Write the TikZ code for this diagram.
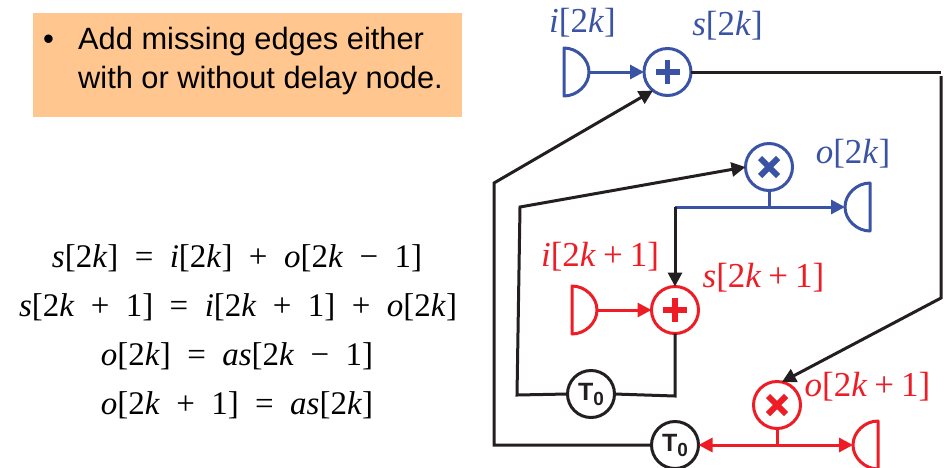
\documentclass[tikz,border=0pt]{standalone}
\usepackage{fontspec}
\setmainfont{Liberation Serif}
\setsansfont{Liberation Sans}
\usetikzlibrary{arrows.meta}
\definecolor{cblue}{HTML}{3A53A4}
\definecolor{cred}{HTML}{EE1C25}
\definecolor{cblack}{HTML}{231F20}
\definecolor{corange}{HTML}{FFC78F}
\newcommand{\eqfont}{\fontsize{33}{36}\selectfont}
\newcommand{\lblfont}{\fontsize{35}{38}\selectfont}
\newcommand{\vr}[1]{\textit{#1}}
\newcommand{\op}[1]{\kern16.4pt#1\kern16.4pt}
\newcommand{\lop}[1]{\kern7pt#1\kern7pt}
\newcommand{\dgate}[5]{% name, flat x, y, direction (+1 right bulge), colour
  \draw[#5,line width=3pt,line join=round]
    (#2,#3-24) .. controls (#2+#4*13,#3-24) and (#2+#4*25,#3-13) .. (#2+#4*25,#3)
    .. controls (#2+#4*25,#3+13) and (#2+#4*13,#3+24) .. (#2,#3+24) -- cycle;
  \coordinate (#1) at (#2+#4*25,#3);
}
\newcommand{\plusmark}[2]{%
  \draw[#2,line width=5.5pt] ([xshift=-12pt]#1.center) -- ([xshift=12pt]#1.center);
  \draw[#2,line width=5.5pt] ([yshift=-12pt]#1.center) -- ([yshift=12pt]#1.center);
}
\newcommand{\timesmark}[2]{%
  \draw[#2,line width=6pt] ([xshift=-9pt,yshift=-9pt]#1.center) -- ([xshift=9pt,yshift=9pt]#1.center);
  \draw[#2,line width=6pt] ([xshift=-9pt,yshift=9pt]#1.center) -- ([xshift=9pt,yshift=-9pt]#1.center);
}
\tikzset{
  x=1pt,y=-1pt,
  opnode/.style={circle,draw=#1,line width=3pt,minimum size=47pt,inner sep=0pt,outer sep=0pt,fill=white},
  delaynode/.style={opnode=cblack,text=cblack,font=\sffamily\bfseries\fontsize{25}{25}\selectfont},
  wire/.style={line width=3pt,draw=#1,line join=miter},
  arrowwire/.style={wire=#1,-{Triangle[length=14pt,width=14pt]}},
  lbl/.style={anchor=base,inner sep=0pt,text=#1,font=\lblfont},
  eqn/.style={anchor=base,inner sep=0pt,text=black,font=\eqfont},
}
\begin{document}
\begin{tikzpicture}
\useasboundingbox (0,0) rectangle (950,467);
% note box
\node[fill=corange,minimum width=429pt,minimum height=104pt,inner sep=0pt,outer sep=0pt] (note) at (247.5,65) {};
\node[anchor=base west,inner sep=0pt,font=\sffamily\fontsize{31}{34}\selectfont] (bul) at (43,49) {•};
\node[anchor=base west,inner sep=0pt,font=\sffamily\fontsize{30.8}{34}\selectfont] (n1) at (78,49) {Add missing edges either};
\node[anchor=base west,inner sep=0pt,font=\sffamily\fontsize{30.8}{34}\selectfont] (n2) at (78,88) {with or without delay node.};
% equations
\node[eqn] (e1) at (237,267) {\vr{s}[2\vr{k}]\op{=}\vr{i}[2\vr{k}]\op{+}\vr{o}[2\vr{k}\op{−}1]};
\node[eqn] (e2) at (238,316) {\vr{s}[2\vr{k}\op{+}1]\op{=}\vr{i}[2\vr{k}\op{+}1]\op{+}\vr{o}[2\vr{k}]};
\node[eqn] (e3) at (237,365) {\vr{o}[2\vr{k}]\op{=}\vr{as}[2\vr{k}\op{−}1]};
\node[eqn] (e4) at (237,414) {\vr{o}[2\vr{k}\op{+}1]\op{=}\vr{as}[2\vr{k}]};
% operator nodes
\node[opnode=cblue] (addA) at (667.5,72) {};
\node[opnode=cblue] (mulA) at (769,167) {};
\node[opnode=cred] (addB) at (675,310) {};
\node[opnode=cred] (mulB) at (777,405) {};
\node[delaynode] (delA) at (591,394) {T\raisebox{-5pt}{\fontsize{19}{19}\selectfont 0}};
\node[delaynode] (delB) at (675,445) {T\raisebox{-5pt}{\fontsize{19}{19}\selectfont 0}};
\plusmark{addA}{cblue}
\timesmark{mulA}{cblue}
\plusmark{addB}{cred}
\timesmark{mulB}{cred}
% input and output gates
\dgate{inA}{564}{72}{1}{cblue}
\dgate{outA}{870}{207}{-1}{cblue}
\dgate{inB}{572}{310}{1}{cred}
\dgate{outB}{878}{445}{-1}{cred}
% corner coordinates
\coordinate (c1) at (941,72);
\coordinate (c2) at (941,76);
\coordinate (c3) at (941,298);
\coordinate (c4) at (675,207);
\coordinate (c5) at (769,207);
\coordinate (c6) at (675,396);
\coordinate (c7) at (517,395);
\coordinate (c8) at (520,207);
\coordinate (c9) at (494,445);
\coordinate (c10) at (494,183);
\coordinate (c11) at (777,445);
% connectors
\draw[arrowwire=cblue] (inA) -- (addA.west);
\draw[wire=cblack] (addA.east) -- (c1);
\draw[arrowwire=cblack] (c2) -- (c3) -- (mulB.78);
\draw[wire=cblue] (mulA.south) -- (c5);
\draw[arrowwire=cblue] (c4) -- (outA);
\draw[arrowwire=cblack] (c4) -- (addB.north);
\draw[arrowwire=cred] (inB) -- (addB.west);
\draw[wire=cblack] (addB.south) -- (c6) -- (delA.east);
\draw[arrowwire=cblack] (delA.west) -- (c7) -- (c8) -- (mulA.west);
\draw[arrowwire=cblack] (delB.west) -- (c9) -- (c10) -- (addA.232);
\draw[wire=cred] (mulB.south) -- (c11);
\draw[arrowwire=cred] (c11) -- (delB.east);
\draw[arrowwire=cred] (c11) -- (outB);
% labels
\node[lbl=cblue] (l1) at (582.5,32) {\vr{i}[2\vr{k}]};
\node[lbl=cblue] (l2) at (727.5,35) {\vr{s}[2\vr{k}]};
\node[lbl=cblue] (l3) at (853,163) {\vr{o}[2\vr{k}]};
\node[lbl=cred] (l4) at (600,266) {\vr{i}[2\vr{k}\lop{+}1]};
\node[lbl=cred] (l5) at (763.5,287) {\vr{s}[2\vr{k}\lop{+}1]};
\node[lbl=cred] (l6) at (867.5,396) {\vr{o}[2\vr{k}\lop{+}1]};
\end{tikzpicture}
\end{document}
